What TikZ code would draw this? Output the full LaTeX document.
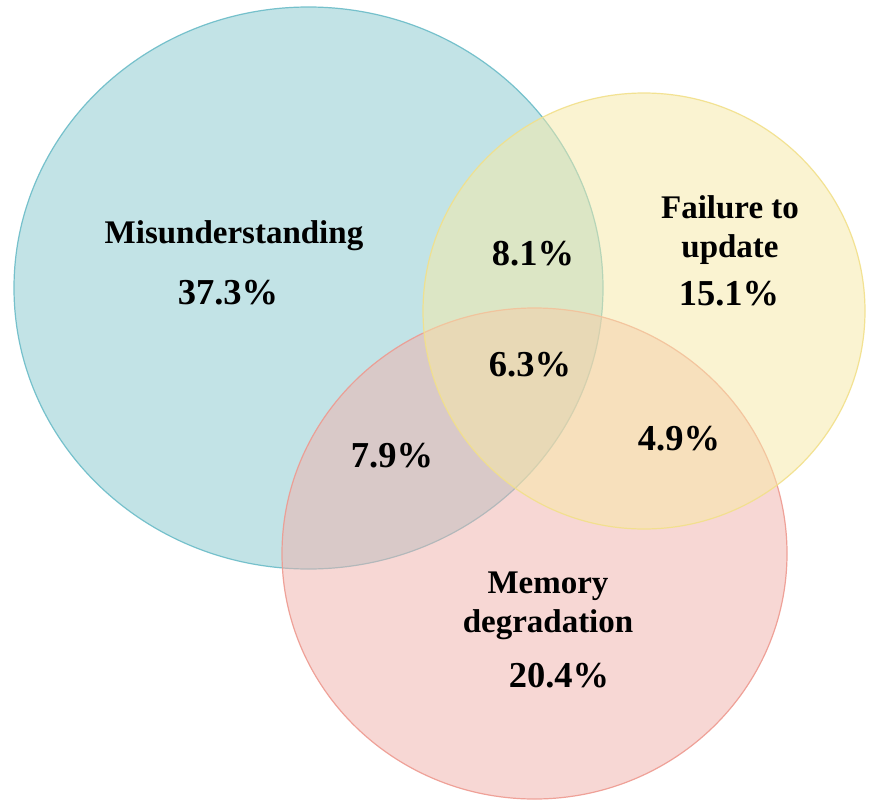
\documentclass[tikz,border=0pt]{standalone}
\usepackage{fontspec}
\setmainfont{Liberation Serif}
\definecolor{bluefill}{HTML}{86C8CE}
\definecolor{bluedraw}{HTML}{6BBCC8}
\definecolor{yelfill}{HTML}{F7E9A5}
\definecolor{yeldraw}{HTML}{F2E08A}
\definecolor{redfill}{HTML}{F1B1AB}
\definecolor{reddraw}{HTML}{EE9A90}
\tikzset{
  setshape/.style={fill opacity=0.5, draw opacity=0.9, line width=1.2pt},
  lbl/.style={font=\fontsize{33}{39}\selectfont\bfseries, anchor=base, inner sep=0pt, align=center},
  pct/.style={font=\fontsize{36.5}{42}\selectfont\bfseries, anchor=base, inner sep=0pt, align=center},
}
\begin{document}
\begin{tikzpicture}[x=1pt,y=-1pt]
\useasboundingbox (0,0) rectangle (872,808);
\fill[white] (0,0) rectangle (872,808);
\draw[setshape, fill=bluefill, draw=bluedraw] (308.5,288) ellipse [x radius=294.5, y radius=281];
\draw[setshape, fill=redfill, draw=reddraw] (534.5,553.5) ellipse [x radius=252.5, y radius=245.5];
\draw[setshape, fill=yelfill, draw=yeldraw] (644,311) ellipse [x radius=221, y radius=218];
\node[lbl] (mis) at (234,243) {Misunderstanding};
\node[pct] (mispct) at (228,304) {37.3\%};
\node[lbl] (fail) at (730,218) {Failure to};
\node[lbl] (upd) at (730,257) {update};
\node[pct] (failpct) at (729,305) {15.1\%};
\node[lbl] (mem) at (548,593) {Memory};
\node[lbl] (deg) at (548,632) {degradation};
\node[pct] (mempct) at (559,687) {20.4\%};
\node[pct] (mf) at (533,265) {8.1\%};
\node[pct] (all) at (530,376) {6.3\%};
\node[pct] (mm) at (392,467) {7.9\%};
\node[pct] (fm) at (679,450) {4.9\%};
\end{tikzpicture}
\end{document}
